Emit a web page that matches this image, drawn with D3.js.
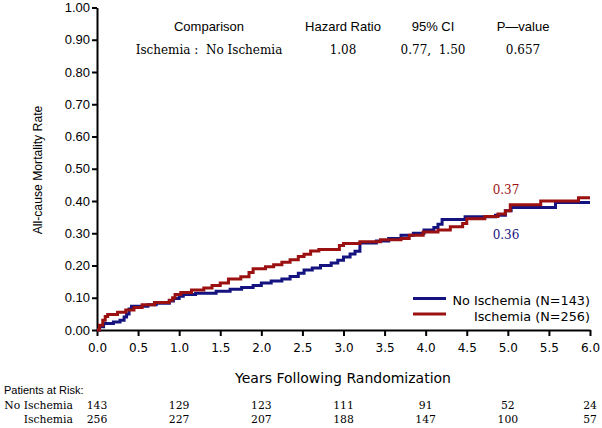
<!DOCTYPE html>
<html>
<head>
<meta charset="utf-8">
<script src="https://cdn.jsdelivr.net/npm/d3@7"></script>
<style>
  body { margin: 0; background: #fff; }
  svg { display: block; }
</style>
</head>
<body>
<svg id="chart" width="602" height="428"></svg>
<script>
// step data: time in years, cumulative mortality
const noIschemiaTimes = [0, 0.03, 0.08, 0.2, 0.28, 0.33, 0.36, 0.39, 0.42, 0.62, 0.72, 0.88, 0.93, 1.0, 1.05, 1.2, 1.45, 1.62, 1.76, 1.9, 2.0, 2.12, 2.25, 2.35, 2.45, 2.52, 2.62, 2.72, 2.85, 2.93, 3.0, 3.08, 3.14, 3.2, 3.4, 3.55, 3.7, 3.85, 3.98, 4.1, 4.15, 4.2, 4.48, 4.85, 4.97, 5.04, 5.58, 6.0];
const noIschemiaRates = [0, 0.01, 0.02, 0.025, 0.03, 0.04, 0.05, 0.065, 0.074, 0.078, 0.083, 0.09, 0.098, 0.105, 0.11, 0.114, 0.12, 0.126, 0.132, 0.138, 0.146, 0.152, 0.158, 0.166, 0.176, 0.186, 0.192, 0.2, 0.208, 0.216, 0.226, 0.236, 0.244, 0.27, 0.276, 0.284, 0.294, 0.3, 0.31, 0.318, 0.328, 0.343, 0.351, 0.356, 0.37, 0.38, 0.395, 0.395];

const ischemiaTimes = [0, 0.03, 0.07, 0.1, 0.13, 0.25, 0.35, 0.45, 0.55, 0.7, 0.88, 0.92, 0.95, 1.02, 1.15, 1.3, 1.4, 1.5, 1.6, 1.75, 1.85, 1.9, 2.05, 2.15, 2.25, 2.35, 2.45, 2.52, 2.6, 2.7, 2.95, 3.0, 3.2, 3.45, 3.7, 3.8, 3.97, 4.15, 4.3, 4.45, 4.5, 4.72, 4.88, 4.97, 5.03, 5.4, 5.86, 6.0];
const ischemiaRates = [0, 0.015, 0.03, 0.042, 0.048, 0.055, 0.062, 0.07, 0.078, 0.085, 0.092, 0.1, 0.11, 0.116, 0.124, 0.13, 0.138, 0.146, 0.158, 0.165, 0.178, 0.19, 0.196, 0.202, 0.21, 0.218, 0.228, 0.235, 0.245, 0.25, 0.262, 0.268, 0.274, 0.28, 0.284, 0.294, 0.304, 0.31, 0.32, 0.33, 0.345, 0.352, 0.36, 0.37, 0.388, 0.4, 0.41, 0.41];

const seriesNames = ['No Ischemia', 'Ischemia'];
const seriesN = [143, 256];
const finalLabels = ['0.36', '0.37'];

const yTicks = [0, 0.1, 0.2, 0.3, 0.4, 0.5, 0.6, 0.7, 0.8, 0.9, 1.0];
const xTicks = [0, 0.5, 1, 1.5, 2, 2.5, 3, 3.5, 4, 4.5, 5, 5.5, 6];

const riskYears = [0, 1, 2, 3, 4, 5, 6];
const riskNoIschemia = [143, 129, 123, 111, 91, 52, 24];
const riskIschemia = [256, 227, 207, 188, 147, 100, 57];

const tableHeaders = ['Comparison', 'Hazard Ratio', '95% CI', 'P\u2014value'];
const tableValues = ['Ischemia :  No Ischemia', '1.08', '0.77,  1.50', '0.657'];

const colors = ['#14137f', '#9b1111'];

const svg = d3.select('#chart');
const sans = 'Liberation Sans, Arial, sans-serif';
const verd = 'DejaVu Sans, Verdana, sans-serif';
const serif = 'DejaVu Serif, serif';

const x = d3.scaleLinear().domain([0, 6]).range([97, 590]);
const y = d3.scaleLinear().domain([0, 1]).range([330, 7.5]);

// axes
const yAxis = svg.append('g')
  .attr('transform', `translate(${x(0)},0)`)
  .call(d3.axisLeft(y).tickValues(yTicks).tickFormat(d3.format('.2f')).tickSize(5).tickSizeOuter(0).tickPadding(2));
yAxis.selectAll('text').attr('font-family', sans).attr('font-size', 13).attr('fill', '#000');

const xAxis = svg.append('g')
  .attr('transform', `translate(0,${y(0)})`)
  .call(d3.axisBottom(x).tickValues(xTicks).tickFormat(d3.format('.1f')).tickSize(6).tickSizeOuter(0).tickPadding(7));
xAxis.selectAll('text').attr('font-family', verd).attr('font-size', 12).attr('fill', '#000');

svg.selectAll('.domain, .tick line').attr('stroke', '#000').attr('stroke-width', 2);

// axis titles
svg.append('text')
  .attr('transform', `translate(42,170) rotate(-90)`)
  .attr('text-anchor', 'middle')
  .attr('font-family', sans).attr('font-size', 12.2)
  .text('All-cause Mortality Rate');

svg.append('text')
  .attr('x', 343).attr('y', 383)
  .attr('text-anchor', 'middle')
  .attr('font-family', verd).attr('font-size', 14)
  .text('Years Following Randomization');

// curves
const stepLine = d3.line()
  .x(d => x(d[0]))
  .y(d => y(d[1]))
  .curve(d3.curveStepAfter);

const series = [
  d3.zip(noIschemiaTimes, noIschemiaRates),
  d3.zip(ischemiaTimes, ischemiaRates)
];

series.forEach((pts, i) => {
  svg.append('path')
    .datum(pts)
    .attr('d', stepLine)
    .attr('fill', 'none')
    .attr('stroke', colors[i])
    .attr('stroke-width', 3);
});

// end-of-curve labels
svg.append('text').attr('x', 506).attr('y', 194).attr('text-anchor', 'middle')
  .attr('font-family', serif).attr('font-size', 12).attr('fill', colors[1]).text(finalLabels[1]);
svg.append('text').attr('x', 506).attr('y', 239).attr('text-anchor', 'middle')
  .attr('font-family', serif).attr('font-size', 12).attr('fill', colors[0]).text(finalLabels[0]);

// legend
seriesNames.forEach((name, i) => {
  const ly = 298.5 + i * 15.5;
  svg.append('line')
    .attr('x1', 413).attr('x2', 446).attr('y1', ly).attr('y2', ly)
    .attr('stroke', colors[i]).attr('stroke-width', 3);
  svg.append('text')
    .attr('x', 590).attr('y', ly + 6.5)
    .attr('text-anchor', 'end')
    .attr('font-family', verd).attr('font-size', 12.8)
    .text(`${name} (N=${seriesN[i]})`);
});

// hazard ratio table
const colX = [209, 343, 433, 523];
tableHeaders.forEach((h, i) => {
  svg.append('text').attr('x', colX[i]).attr('y', 31).attr('text-anchor', 'middle')
    .attr('font-family', sans).attr('font-size', 13).text(h);
  svg.append('text').attr('x', colX[i]).attr('y', 54).attr('text-anchor', 'middle')
    .attr('font-family', serif).attr('font-size', 12).attr('xml:space', 'preserve')
    .style('white-space', 'pre').text(tableValues[i]);
});

// patients at risk
svg.append('text').attr('x', 4).attr('y', 394)
  .attr('font-family', sans).attr('font-size', 11).text('Patients at Risk:');

const riskRows = [riskNoIschemia, riskIschemia];
riskRows.forEach((row, r) => {
  const ry = 409 + r * 14;
  svg.append('text').attr('x', 73).attr('y', ry).attr('text-anchor', 'end')
    .attr('font-family', serif).attr('font-size', 10.8).text(seriesNames[r]);
  svg.selectAll(null)
    .data(row)
    .enter()
    .append('text')
    .attr('x', (d, i) => x(riskYears[i]))
    .attr('y', ry)
    .attr('text-anchor', 'middle')
    .attr('font-family', serif).attr('font-size', 10.8)
    .text(d => d);
});
</script>
</body>
</html>
